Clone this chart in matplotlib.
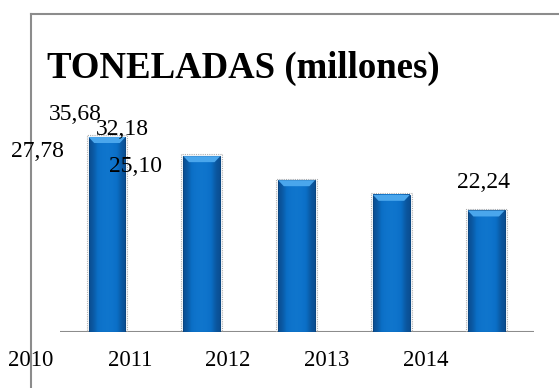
import numpy as np
import matplotlib
matplotlib.use('Agg')
import matplotlib.pyplot as plt
from matplotlib.patches import Polygon, Rectangle
from matplotlib.lines import Line2D

# datos
anios = ['2010', '2011', '2012', '2013', '2014']
toneladas = [35.68, 32.18, 27.78, 25.10, 22.24]
etiquetas = ['35,68', '32,18', '27,78', '25,10', '22,24']

W, H = 559, 388
plt.rcParams['font.family'] = ['Liberation Serif', 'DejaVu Serif']

fig = plt.figure(figsize=(W / 100, H / 100), dpi=100)

def px(x, y):
    # pixel (desde arriba-izquierda) -> fraccion de figura
    return x / W, 1 - y / H

# marco del grafico
fig.add_artist(Line2D([31 / W, 1], [1 - 14 / H, 1 - 14 / H], color='#8c8c8c', lw=1.5))
fig.add_artist(Line2D([31 / W, 31 / W], [0, 1 - 14 / H], color='#8c8c8c', lw=1.5))

ax = fig.add_axes([59.6 / W, 56 / H, 474 / W, 218.6 / H])
ax.set_xlim(-0.5, 4.5)
ax.set_ylim(0, 40)
ax.axis('off')
ax.plot([-0.5, 4.5], [0, 0], color='#8c8c8c', lw=1.5, zorder=1)

ancho = 0.39
grad = np.array([[0.0, 0.35, 0.7, 0.85, 0.85, 0.7, 0.35, 0.0]])
cmap = matplotlib.colors.LinearSegmentedColormap.from_list('azul', ['#0a4f94', '#0b6fc6', '#1178d0'])
for i, v in enumerate(toneladas):
    x0, x1 = i - ancho / 2, i + ancho / 2
    # sombra punteada
    ax.add_patch(Rectangle((x0 - 0.02, 0), ancho + 0.04, v + 0.3, fill=False,
                           ec='#b0b0b0', lw=0.8, ls=(0, (1, 1)), zorder=2))
    ax.imshow(grad, cmap=cmap, vmin=0, vmax=1, extent=[x0, x1, 0, v],
              aspect='auto', zorder=3, interpolation='bicubic')
    ax.add_patch(Rectangle((x0, 0), ancho, v, fill=False, ec='#0a4580', lw=0.8, zorder=4))
    # bisel superior
    b = 1.1
    ax.add_patch(Polygon([(x0, v), (x1, v), (x1 - 0.06, v - b), (x0 + 0.06, v - b)],
                         closed=True, fc='#4aa6ec', ec='none', zorder=4))
ax.set_xlim(-0.5, 4.5)
ax.set_ylim(0, 40)

# titulo
fig.text(*px(47, 68), 'TONELADAS (millones)', fontsize=26.5, fontweight='bold',
         ha='left', va='center')

# etiquetas de datos
pos_etq = [(75, 114), (122, 130), (37, 152), (135, 167), (484, 182)]
for t, (x, y) in zip(etiquetas, pos_etq):
    fig.text(*px(x, y), t, fontsize=17, ha='center', va='center')

# etiquetas del eje
pos_anios = [31, 130, 228, 327, 426]
for a, x in zip(anios, pos_anios):
    fig.text(*px(x, 361), a, fontsize=16.5, ha='center', va='center')

fig.savefig('out.png', dpi=100, facecolor='white')
